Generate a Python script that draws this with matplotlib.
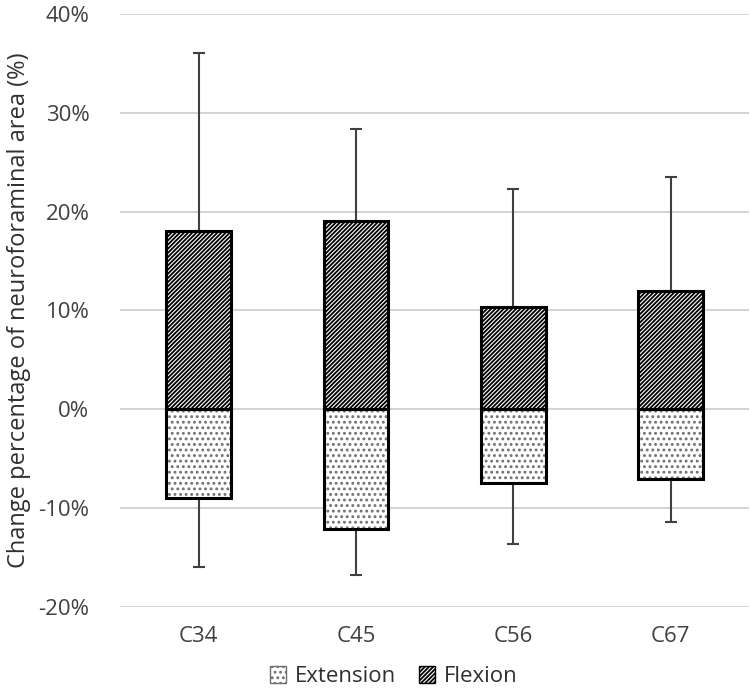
import numpy as np
import matplotlib.pyplot as plt
from matplotlib.patches import Patch
from matplotlib.ticker import FuncFormatter

plt.rcParams['font.family'] = ['Open Sans', 'DejaVu Sans']
plt.rcParams['hatch.linewidth'] = 1.3

# Data (percent)
levels = ['C34', 'C45', 'C56', 'C67']
flexion = [18.0, 19.1, 10.4, 12.0]
flexion_top = [36.1, 28.4, 22.3, 23.5]
extension = [-9.0, -12.1, -7.5, -7.0]
extension_bottom = [-16.0, -16.8, -13.6, -11.4]

x = np.arange(len(levels))
flex_err = np.array(flexion_top) - np.array(flexion)
ext_err = np.array(extension) - np.array(extension_bottom)

fig = plt.figure(figsize=(7.5, 6.99), dpi=100)
ax = fig.add_axes([0.16, 0.1316, 0.839, 0.8484])

w = 0.41
# hatched fills
ax.bar(x, extension, w, color='white', edgecolor='#707070', hatch='...', linewidth=0, zorder=2)
ax.bar(x, flexion, w, color='white', edgecolor='black', hatch='////////', linewidth=0, zorder=2)
# outlines
ax.bar(x, extension, w, fill=False, edgecolor='black', linewidth=2.2, zorder=3)
ax.bar(x, flexion, w, fill=False, edgecolor='black', linewidth=2.2, zorder=3)

# one-sided error bars
ax.errorbar(x, flexion, yerr=[np.zeros(4), flex_err], fmt='none', ecolor='#404040',
            elinewidth=1.5, capsize=4, capthick=1.5, zorder=1)
ax.errorbar(x, extension, yerr=[ext_err, np.zeros(4)], fmt='none', ecolor='#404040',
            elinewidth=1.5, capsize=4, capthick=1.5, zorder=1)

ax.set_xlim(-0.5, 3.5)
ax.set_ylim(-20, 40)
ax.set_yticks(np.arange(-20, 41, 10))
ax.yaxis.set_major_formatter(FuncFormatter(lambda v, p: f'{v:.0f}%'))
ax.set_xticks(x)
ax.set_xticklabels(levels)
ax.tick_params(axis='both', length=0, labelsize=16, colors='#404040')
ax.tick_params(axis='y', pad=22)
ax.tick_params(axis='x', pad=14)
ax.grid(axis='y', color='#d0d0d0', linewidth=1.3, zorder=0)
ax.set_axisbelow(True)
for s in ax.spines.values():
    s.set_visible(False)

ax.set_ylabel('Change percentage of neuroforaminal area (%)', fontsize=17, color='#303030', labelpad=5)

handles = [Patch(facecolor='white', edgecolor='#707070', hatch='...', label='Extension'),
           Patch(facecolor='white', edgecolor='black', hatch='////////', label='Flexion')]
leg = fig.legend(handles=handles, loc='lower center', bbox_to_anchor=(0.525, -0.012), ncol=2,
                 frameon=False, fontsize=16, handlelength=0.75, handleheight=0.75,
                 handletextpad=0.4, columnspacing=1.0)
for t in leg.get_texts():
    t.set_color('#303030')

plt.savefig('out.png', dpi=100)
